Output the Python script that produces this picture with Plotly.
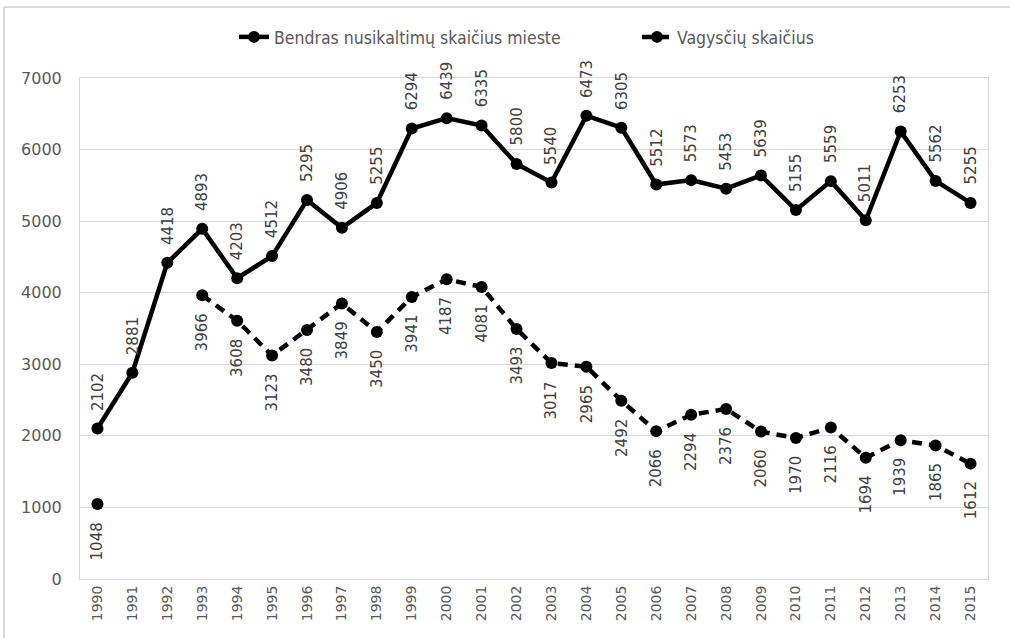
import plotly.graph_objects as go

years = list(range(1990, 2016))
total = [2102, 2881, 4418, 4893, 4203, 4512, 5295, 4906, 5255, 6294, 6439, 6335, 5800,
         5540, 6473, 6305, 5512, 5573, 5453, 5639, 5155, 5559, 5011, 6253, 5562, 5255]
thefts = [1048, None, None, 3966, 3608, 3123, 3480, 3849, 3450, 3941, 4187, 4081, 3493,
          3017, 2965, 2492, 2066, 2294, 2376, 2060, 1970, 2116, 1694, 1939, 1865, 1612]
name_total = "Bendras nusikaltimų skaičius mieste"
name_thefts = "Vagysčių skaičius"
y_ticks = [0, 1000, 2000, 3000, 4000, 5000, 6000, 7000]

fig = go.Figure()
fig.add_trace(go.Scatter(x=years, y=total, name=name_total, mode="lines+markers",
                         line=dict(color="black", width=4.5),
                         marker=dict(color="black", size=12), legend="legend"))
fig.add_trace(go.Scatter(x=years, y=thefts, name=name_thefts, mode="lines+markers",
                         connectgaps=False,
                         line=dict(color="black", width=4.5, dash="10px,7px"),
                         marker=dict(color="black", size=12), legend="legend2"))

lab_font = dict(family="DejaVu Sans", size=15, color="#404040")
ann = []
for x, v in zip(years, total):
    ann.append(dict(x=x, y=v, text=str(v), showarrow=False, textangle=-90,
                    yshift=37, font=lab_font))
for x, v in zip(years, thefts):
    if v is None:
        continue
    ann.append(dict(x=x, y=v, text=str(v), showarrow=False, textangle=-90,
                    yshift=-37, font=lab_font))

L, T, R, B = 80, 78, 988, 579
W = R - L
H = B - T

leg_font = dict(family="DejaVu Sans Condensed, DejaVu Sans, sans-serif",
                size=17.5, color="#595959")

fig.update_layout(
    width=1010, height=638,
    margin=dict(l=L, r=1010 - R, t=T, b=638 - B, autoexpand=False),
    paper_bgcolor="white", plot_bgcolor="white",
    showlegend=True,
    legend=dict(orientation="h", x=(234 - L) / W, xanchor="left",
                y=(B - 37) / H, yanchor="middle", font=leg_font,
                bgcolor="rgba(0,0,0,0)", itemwidth=30),
    legend2=dict(orientation="h", x=(637 - L) / W, xanchor="left",
                 y=(B - 37) / H, yanchor="middle", font=leg_font,
                 bgcolor="rgba(0,0,0,0)", itemwidth=30),
    annotations=ann,
    shapes=[
        dict(type="line", xref="paper", yref="paper", x0=(4 - L) / W, x1=(1012 - L) / W,
             y0=(B - 7) / H, y1=(B - 7) / H, line=dict(color="#d9d9d9", width=2)),
        dict(type="line", xref="paper", yref="paper", x0=(4 - L) / W, x1=(4 - L) / W,
             y0=(B - 7) / H, y1=(B - 640) / H, line=dict(color="#d9d9d9", width=2)),
    ],
)
fig.update_xaxes(range=[1989.5, 2015.5], tickvals=years, ticktext=[str(y) for y in years],
                 tickangle=-90, showgrid=False, showline=True, mirror=True,
                 linecolor="#d9d9d9", linewidth=1, ticks="",
                 tickfont=dict(family="DejaVu Sans", size=14, color="#595959"))
fig.update_yaxes(range=[0, 7000], tickvals=y_ticks, showgrid=True, gridcolor="#d9d9d9",
                 gridwidth=1, showline=True, mirror=True, linecolor="#d9d9d9",
                 linewidth=1, ticks="", zeroline=False, ticklabelstandoff=14,
                 tickfont=dict(family="DejaVu Sans", size=16, color="#595959"))

fig.write_html("out.html", config={"displayModeBar": False},
               post_script="document.body.style.margin='0';")
